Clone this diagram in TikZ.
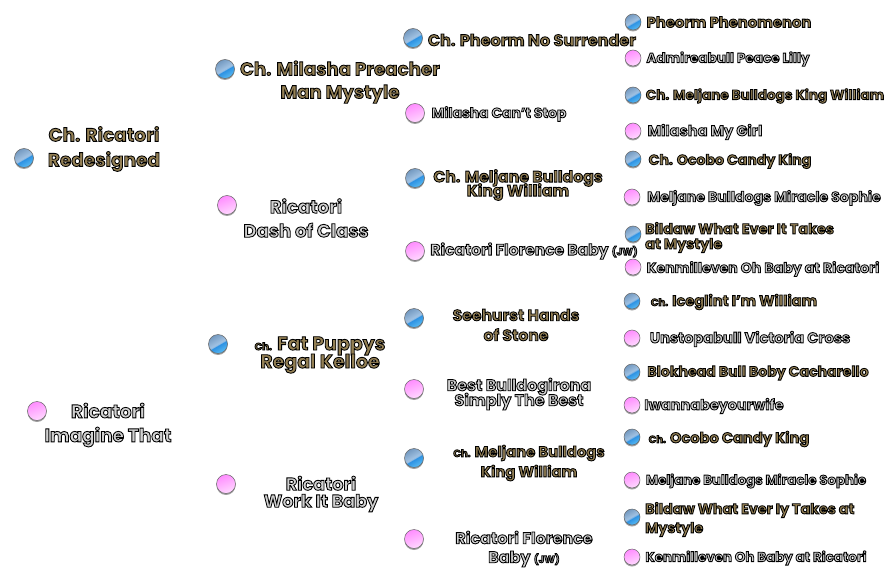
\documentclass[tikz,border=0pt]{standalone}
\usepackage{fontspec}
\setmainfont{Poppins Bold}
\usetikzlibrary{shadows}
\definecolor{sire_low}{HTML}{5ABBF2}
\definecolor{sire_mid}{HTML}{2A8FE2}
\definecolor{sire_hi}{HTML}{A4C4E4}
\definecolor{sire_top}{HTML}{7399C0}
\newcommand{\smallch}{{\fontsize{10}{10}\selectfont Ch.}}
\newcommand{\smalljw}{{\fontsize{10}{10}\selectfont (JW)}}
\pgfdeclareverticalshading{sire_gloss}{100bp}{color(0bp)=(sire_low); color(25bp)=(sire_low); color(47bp)=(sire_mid); color(49bp)=(sire_hi); color(75bp)=(sire_top); color(100bp)=(sire_top)}
\tikzset{
  orb_node/.style={circle,inner sep=0pt,minimum size=19pt,draw=black!60,line width=.5pt,
    drop shadow={opacity=.75,shadow xshift=0pt,shadow yshift=-1.5pt}},
  small_orb/.style={minimum size=16pt},
  sire_orb/.style={orb_node,shading=sire_gloss,shading angle=30},
  dam_orb/.style={orb_node,shading=axis,top color=magenta!45!white,bottom color=magenta!15!white,shading angle=20},
  sire_name/.style={align=center,inner sep=0pt,yshift=-1pt,execute at begin node={\lineskiplimit=-100pt\special{pdf:code 2 Tr 0.85 w 0 0 0 RG 0.58 0.50 0.33 rg}}},
  dam_name/.style={align=center,inner sep=0pt,yshift=-1pt,execute at begin node={\lineskiplimit=-100pt\special{pdf:code 2 Tr 0.85 w 0 0 0 RG 0.82 0.82 0.82 rg}}},
}
\begin{document}
\begin{tikzpicture}[x=1pt,y=-1pt]
    \useasboundingbox (0,0) rectangle (886,575);
    % first generation
    \node[sire_orb] (a1) at (24,158) {};
    \node[sire_name,font=\fontsize{18.5}{25}\selectfont] (a1t) at (104,148) {Ch. Ricatori\\Redesigned};
    \node[dam_orb] (a2) at (37,411) {};
    \node[dam_name,font=\fontsize{18.5}{24}\selectfont] (a2t) at (108,424) {Ricatori\\Imagine That};
    % second generation
    \node[sire_orb] (b1) at (225,69) {};
    \node[sire_name,font=\fontsize{18.2}{23}\selectfont] (b1t) at (340,81) {Ch. Milasha Preacher\\Man Mystyle};
    \node[dam_orb] (b2) at (227,205) {};
    \node[dam_name,font=\fontsize{18.1}{24}\selectfont] (b2t) at (306,217) {Ricatori\\Dash of Class};
    \node[sire_orb] (b3) at (218,344) {};
    \node[sire_name,font=\fontsize{19}{18}\selectfont] (b3t) at (320,354) {\smallch{} Fat Puppys\\Regal Kelloe};
    \node[dam_orb] (b4) at (226,484) {};
    \node[dam_name,font=\fontsize{17.6}{17}\selectfont] (b4t) at (321,493) {Ricatori\\Work It Baby};
    % third generation
    \node[sire_orb] (c1) at (413,38) {};
    \node[sire_name,font=\fontsize{16}{18}\selectfont] (c1t) at (532,39) {Ch. Pheorm No Surrender};
    \node[dam_orb] (c2) at (415,113) {};
    \node[dam_name,font=\fontsize{13.9}{18}\selectfont] (c2t) at (499,113) {Milasha Can't Stop};
    \node[sire_orb] (c3) at (415,178) {};
    \node[sire_name,font=\fontsize{15.7}{14}\selectfont] (c3t) at (518,184) {Ch. Meljane Bulldogs\\King William};
    \node[dam_orb] (c4) at (415,251) {};
    \node[dam_name,font=\fontsize{15.5}{18}\selectfont] (c4t) at (534,250) {Ricatori Florence Baby \smalljw};
    \node[sire_orb] (c5) at (414,318) {};
    \node[sire_name,font=\fontsize{15.6}{20}\selectfont] (c5t) at (516,324) {Seehurst Hands\\of Stone};
    \node[dam_orb] (c6) at (414,389) {};
    \node[dam_name,font=\fontsize{15.9}{15}\selectfont] (c6t) at (519,393) {Best Bulldogirona\\Simply The Best};
    \node[sire_orb] (c7) at (414,458) {};
    \node[sire_name,font=\fontsize{14.8}{20}\selectfont] (c7t) at (529,462) {\smallch{} Meljane Bulldogs\\King William};
    \node[dam_orb] (c8) at (414,539) {};
    \node[dam_name,font=\fontsize{15.9}{19}\selectfont] (c8t) at (524,548) {Ricatori Florence\\Baby \smalljw};
    % fourth generation
    \node[sire_orb,small_orb] (d1) at (633,22) {};
    \node[sire_name,font=\fontsize{14.8}{16}\selectfont] (d1t) at (729,21) {Pheorm Phenomenon};
    \node[dam_orb,small_orb] (d2) at (633,58) {};
    \node[dam_name,font=\fontsize{13.6}{16}\selectfont] (d2t) at (728,58) {Admireabull Peace Lilly};
    \node[sire_orb,small_orb] (d3) at (633,95) {};
    \node[sire_name,font=\fontsize{13.6}{16}\selectfont] (d3t) at (765,95) {Ch. Meljane Bulldogs King William};
    \node[dam_orb,small_orb] (d4) at (633,131) {};
    \node[dam_name,font=\fontsize{14.6}{16}\selectfont] (d4t) at (705,131) {Milasha My Girl};
    \node[sire_orb,small_orb] (d5) at (633,159) {};
    \node[sire_name,font=\fontsize{14.1}{16}\selectfont] (d5t) at (730,160) {Ch. Ocobo Candy King};
    \node[dam_orb,small_orb] (d6) at (632,197) {};
    \node[dam_name,font=\fontsize{14.1}{16}\selectfont] (d6t) at (764,197) {Meljane Bulldogs Miracle Sophie};
    \node[sire_orb,small_orb] (d7) at (633,234) {};
    \node[sire_name,font=\fontsize{14.4}{15}\selectfont,anchor=west,align=left] (d7t) at (645,236.5) {Bildaw What Ever It Takes\\at Mystyle};
    \node[dam_orb,small_orb] (d8) at (633,267) {};
    \node[dam_name,font=\fontsize{14.1}{16}\selectfont] (d8t) at (763,268) {Kenmilleven Oh Baby at Ricatori};
    \node[sire_orb,small_orb] (d9) at (632,301) {};
    \node[sire_name,font=\fontsize{14.6}{16}\selectfont] (d9t) at (734,301) {\smallch{} Iceglint I'm William};
    \node[dam_orb,small_orb] (d10) at (632,338) {};
    \node[dam_name,font=\fontsize{14.6}{16}\selectfont] (d10t) at (750,338) {Unstopabull Victoria Cross};
    \node[sire_orb,small_orb] (d11) at (632,372) {};
    \node[sire_name,font=\fontsize{14.1}{16}\selectfont] (d11t) at (758,372) {Blokhead Bull Boby Cacharello};
    \node[dam_orb,small_orb] (d12) at (632,405) {};
    \node[dam_name,font=\fontsize{14.4}{16}\selectfont] (d12t) at (714,405) {Iwannabeyourwife};
    \node[sire_orb,small_orb] (d13) at (632,437) {};
    \node[sire_name,font=\fontsize{14.6}{16}\selectfont] (d13t) at (729,438) {\smallch{} Ocobo Candy King};
    \node[dam_orb,small_orb] (d14) at (632,480) {};
    \node[dam_name,font=\fontsize{13.3}{16}\selectfont] (d14t) at (756,480) {Meljane Bulldogs Miracle Sophie};
    \node[sire_orb,small_orb] (d15) at (632,517) {};
    \node[sire_name,font=\fontsize{14.3}{19}\selectfont,anchor=west,align=left] (d15t) at (645,518.5) {Bildaw What Ever Iy Takes at\\Mystyle};
    \node[dam_orb,small_orb] (d16) at (632,557) {};
    \node[dam_name,font=\fontsize{13.4}{16}\selectfont] (d16t) at (756,557) {Kenmilleven Oh Baby at Ricatori};
\end{tikzpicture}
\end{document}
